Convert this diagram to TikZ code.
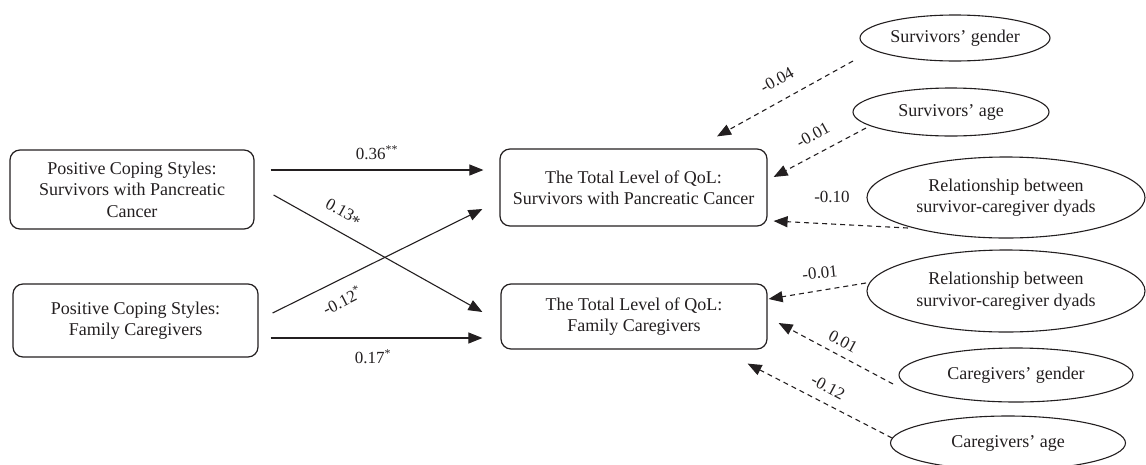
\documentclass[tikz,border=0pt]{standalone}
\usepackage{fontspec}
\setmainfont{Liberation Serif}
\usetikzlibrary{shapes.geometric,arrows.meta}
\definecolor{ink}{HTML}{231F20}
\begin{document}
\begin{tikzpicture}[x=1pt,y=-1pt,
  box/.style={draw=ink, text=ink, line width=1.2pt, rounded corners=10pt, align=center,
    font=\fontsize{18}{21.5}\selectfont, inner sep=0pt},
  oval/.style={draw=ink, ellipse, line width=1.1pt, inner sep=0pt},
  otext/.style={align=center, text=ink, font=\fontsize{18}{21.5}\selectfont, inner sep=0pt},
  lab/.style={text=ink, font=\fontsize{17}{20}\selectfont, inner sep=0pt},
  solidarrow/.style={draw=ink, -{Triangle[length=14pt,width=11pt]}, line width=1.1pt},
  dasharrow/.style={solidarrow, dash pattern=on 5pt off 4pt}
]
\useasboundingbox (0,0) rectangle (1146,464);

% boxes
\node[box, minimum width=244pt, minimum height=79pt] (A) at (132,189.5)
  {Positive Coping Styles:\\Survivors with Pancreatic\\Cancer};
\node[box, minimum width=245pt, minimum height=73pt] (B) at (135.5,320.5)
  {Positive Coping Styles:\\Family Caregivers};
\node[box, minimum width=267pt, minimum height=77pt] (C) at (633.5,187.5)
  {The Total Level of QoL:\\Survivors with Pancreatic Cancer};
\node[box, minimum width=266pt, minimum height=65pt] (D) at (634,316.5)
  {The Total Level of QoL:\\Family Caregivers};

% ellipses
\node[oval, minimum width=190pt, minimum height=46pt] (E1) at (955,38) {};
\node[otext] (T1) at (E1.center) {Survivors' gender};
\node[oval, minimum width=196pt, minimum height=48pt] (E2) at (951,112) {};
\node[otext] (T2) at (E2.center) {Survivors' age};
\node[oval, minimum width=278pt, minimum height=81pt] (E3) at (1006,197.5) {};
\node[otext] (T3) at (E3.center) {Relationship between\\survivor-caregiver dyads};
\node[oval, minimum width=278pt, minimum height=82pt] (E4) at (1006,291) {};
\node[otext] (T4) at (E4.center) {Relationship between\\survivor-caregiver dyads};
\node[oval, minimum width=234pt, minimum height=54pt] (E5) at (1016,375) {};
\node[otext] (T5) at (E5.center) {Caregivers' gender};
\node[oval, minimum width=235pt, minimum height=54pt] (E6) at (1008,443) {};
\node[otext] (T6) at (E6.center) {Caregivers' age};

% solid arrows
\draw[solidarrow] ([shift={(16,-19.5)}]A.east) -- ([shift={(-16,-17.5)}]C.west);
\draw[solidarrow] ([shift={(19,5.5)}]A.east) -- ([shift={(-18,-4.5)}]D.west);
\draw[solidarrow] ([shift={(14,-7.5)}]B.east) -- ([shift={(-17,21.5)}]C.west);
\draw[solidarrow] ([shift={(12,17.5)}]B.east) -- ([shift={(-18,21.5)}]D.west);

% dashed arrows
\draw[dasharrow] ([shift={(-102,23)}]E1.center) -- ([shift={(83.5,-12)}]C.north);
\draw[dasharrow] ([shift={(-85,16)}]E2.center) -- ([shift={(6,-10.5)}]C.east);
\draw[dasharrow] ([shift={(-98,30.5)}]E3.center) -- ([shift={(6,33.5)}]C.east);
\draw[dasharrow] ([shift={(-140,-8)}]E4.center) -- ([shift={(1,-17.5)}]D.east);
\draw[dasharrow] ([shift={(-123,9)}]E5.center) -- ([shift={(11,6.5)}]D.east);
\draw[dasharrow] ([shift={(-116,-5)}]E6.center) -- ([shift={(-20,14)}]D.south east);

% labels
\node[lab] (L1) at (377,153) {0.36\textsuperscript{**}};
\node[lab, rotate=-29] (L2) at (343,213) {0.13\raisebox{-0.45ex}{*}};
\node[lab, rotate=27] (L3) at (342,300) {-0.12\textsuperscript{*}};
\node[lab] (L4) at (373,357) {0.17\textsuperscript{*}};
\node[lab, rotate=29] (L5) at (777,80) {-0.04};
\node[lab, rotate=29] (L6) at (813,135) {-0.01};
\node[lab] (L7) at (832,197) {-0.10};
\node[lab, rotate=6] (L8) at (820,273) {-0.01};
\node[lab, rotate=-28] (L9) at (843,342) {0.01};
\node[lab, rotate=-28] (L10) at (828,387) {-0.12};
\end{tikzpicture}
\end{document}
